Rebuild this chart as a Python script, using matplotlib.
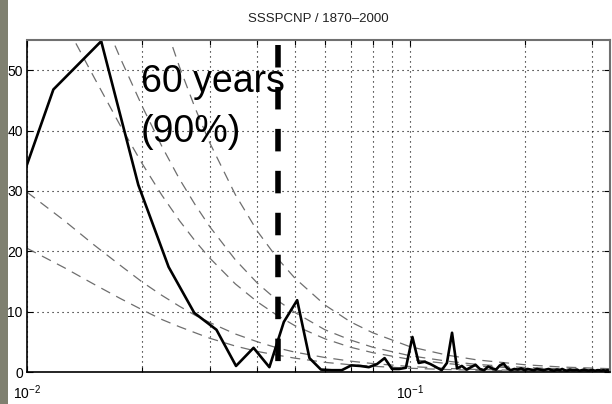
import numpy as np
import matplotlib
matplotlib.use('Agg')
import matplotlib.pyplot as plt
from matplotlib.patches import Rectangle
from matplotlib.ticker import LogLocator, NullFormatter, FixedLocator

# ---- data ----
# spectrum: harmonics k of a 256-point transform, frequency = k / 256
harmonic = list(range(2, 86))
power = [15.0, 46.8, 54.8, 31.0, 17.4, 9.8, 7.0, 1.0, 4.0, 0.8,
         8.3, 11.9, 2.3, 0.4, 0.3, 0.3, 1.1, 1.0, 0.8, 1.3,
         2.3, 0.5, 0.5, 0.7, 5.8, 1.5, 1.7, 1.3, 0.8, 0.3,
         1.5, 6.5, 0.6, 1.0, 0.4, 0.8, 1.2, 0.5, 0.3, 0.9,
         0.6, 0.4, 1.1, 1.4, 0.6, 0.3, 0.5, 0.4, 0.6, 0.3,
         0.5, 0.4, 0.3, 0.5, 0.4, 0.3, 0.4, 0.5, 0.3, 0.2,
         0.4, 0.3, 0.5, 0.3, 0.2, 0.4, 0.3, 0.3, 0.4, 0.2,
         0.3, 0.4, 0.3, 0.2, 0.3, 0.3, 0.2, 0.3, 0.3, 0.2,
         0.3, 0.2, 0.3, 0.2]

# red-noise reference curves (grey dashed)
ref_freq = [0.01, 0.0125, 0.015, 0.0175, 0.02, 0.0225, 0.025, 0.0275, 0.03,
            0.035, 0.04, 0.045, 0.05, 0.06, 0.07, 0.08, 0.1, 0.125, 0.15,
            0.2, 0.25, 0.3333]
ref_1 = [20.5, 17.3, 14.5, 12.2, 10.3, 8.7, 7.5, 6.5, 5.6, 4.3, 3.4, 2.8,
         2.3, 1.6, 1.2, 0.95, 0.62, 0.41, 0.29, 0.17, 0.12, 0.08]
ref_2 = [29.8, 25.1, 21.0, 17.7, 14.9, 12.7, 10.9, 9.4, 8.2, 6.3, 5.0, 4.0,
         3.3, 2.4, 1.8, 1.4, 0.91, 0.59, 0.42, 0.25, 0.18, 0.12]
ref_3 = [69.0, 58.1, 48.7, 40.9, 34.5, 29.3, 25.1, 21.7, 18.9, 14.6, 11.6,
         9.4, 7.7, 5.5, 4.1, 3.2, 2.1, 1.4, 0.98, 0.59, 0.41, 0.27]
ref_4 = [88.0, 74.1, 62.1, 52.1, 44.0, 37.4, 32.0, 27.7, 24.1, 18.6, 14.7,
         11.9, 9.9, 7.0, 5.3, 4.1, 2.7, 1.8, 1.25, 0.75, 0.52, 0.35]
ref_5 = [139.0, 117.0, 98.1, 82.4, 69.6, 59.1, 50.6, 43.7, 38.0, 29.4, 23.3,
         18.9, 15.6, 11.1, 8.3, 6.5, 4.2, 2.8, 2.0, 1.2, 0.82, 0.55]

cut_freq = 0.0452
cut_span = [54.1, 1.65]

title = 'SSSPCNP / 1870\u20132000'
note_1 = '60 years'
note_2 = '(90%)'

# ---- figure ----
narrow = ['Liberation Sans Narrow', 'Liberation Sans', 'DejaVu Sans']
plt.rcParams['font.family'] = narrow
plt.rcParams['mathtext.fontset'] = 'custom'
plt.rcParams['mathtext.rm'] = 'Liberation Sans'

fig = plt.figure(figsize=(6.12, 4.04), dpi=100, facecolor='white')
fig.patches.append(Rectangle((0, 0), 8 / 612, 1, transform=fig.transFigure,
                             facecolor='#7f8070', edgecolor='none', zorder=0))
ax = fig.add_axes([27 / 612, 1 - 372 / 404, 583 / 612, 332 / 404])

freq = np.array(harmonic) / 256.0

for curve in [ref_1, ref_2, ref_3, ref_4, ref_5]:
    ax.plot(ref_freq, curve, color='#6e6e6e', linewidth=0.9,
            dashes=(8, 5.5))

ax.plot(freq, power, color='black', linewidth=1.9)
ax.plot([cut_freq, cut_freq], cut_span, color='black', linewidth=4,
        dashes=(4.05, 3.5), solid_capstyle='butt')

ax.set_xscale('log')
ax.set_xlim(0.01, 1 / 3)
ax.set_ylim(0, 55)
ax.yaxis.set_major_locator(FixedLocator([0, 10, 20, 30, 40, 50]))
ax.xaxis.set_major_locator(LogLocator(base=10))
ax.xaxis.set_minor_locator(LogLocator(base=10, subs=np.arange(2, 10)))
ax.xaxis.set_minor_formatter(NullFormatter())

ax.grid(True, which='both', axis='x', color='black', linewidth=0.8,
        linestyle=(0, (1, 3.5)))
ax.grid(True, which='major', axis='y', color='black', linewidth=0.8,
        linestyle=(0, (1, 3.5)))

ax.tick_params(which='both', direction='in', top=True, right=True,
               colors='black', labelsize=10)
ax.tick_params(which='major', length=4, width=0.8)
ax.tick_params(which='minor', length=3.5, width=0.8)
ax.tick_params(axis='y', pad=3)
ax.tick_params(axis='x', pad=8)

for side in ['left', 'bottom']:
    ax.spines[side].set_linewidth(1.2)
    ax.spines[side].set_color('black')
for side in ['top', 'right']:
    ax.spines[side].set_linewidth(1.5)
    ax.spines[side].set_color('#707070')

ax.set_title(title, fontsize=9.5, pad=13, color='#202020')

ax.text(0.0198, 46.4, note_1, fontsize=27, family='Liberation Sans',
        va='baseline', ha='left', color='black', zorder=5)
ax.text(0.0198, 38.1, note_2, fontsize=27, family='Liberation Sans',
        va='baseline', ha='left', color='black', zorder=5)

fig.savefig('out.png', dpi=100, facecolor='white')
